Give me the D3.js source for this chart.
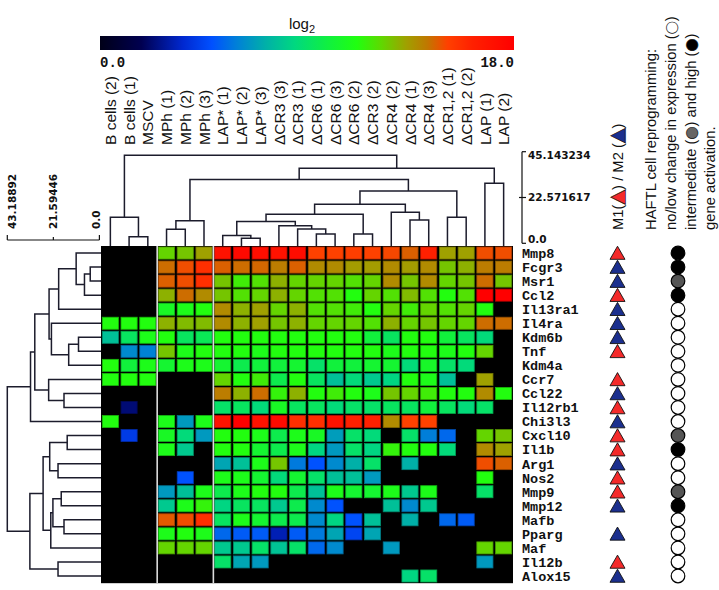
<!DOCTYPE html>
<html><head><meta charset="utf-8">
<script src="https://cdn.jsdelivr.net/npm/d3@7"></script>
<style>body{margin:0;background:#fff}svg{display:block}</style>
</head><body><svg id="c" width="719" height="590"></svg>
<script>
const colLabels = ["B cells (2)","B cells (1)","MSCV","MPh (1)","MPh (2)","MPh (3)","LAP* (1)","LAP* (2)","LAP* (3)","ΔCR3 (3)","ΔCR3 (1)","ΔCR6 (1)","ΔCR6 (3)","ΔCR6 (2)","ΔCR3 (2)","ΔCR4 (2)","ΔCR4 (1)","ΔCR4 (3)","ΔCR1,2 (1)","ΔCR1,2 (2)","LAP (1)","LAP (2)"];
const rowLabels = ["Mmp8","Fcgr3","Msr1","Ccl2","Il13ra1","Il4ra","Kdm6b","Tnf","Kdm4a","Ccr7","Ccl22","Il12rb1","Chi3l3","Cxcl10","Il1b","Arg1","Nos2","Mmp9","Mmp12","Mafb","Pparg","Maf","Il12b","Alox15"];
const _ = null;
const exprValues = [
 [_,_,_,12.3,12.6,13.3,17.0,17.5,17.2,17.0,17.3,15.1,15.1,15.2,15.1,15.0,14.6,16.2,13.3,13.3,14.9,14.9],
 [_,_,_,14.4,14.9,15.7,14.6,14.4,14.5,14.1,14.6,13.8,13.8,13.4,13.4,13.8,13.4,13.8,12.6,13.0,14.1,14.1],
 [_,_,_,14.6,14.9,15.7,12.6,11.7,12.0,13.0,12.3,12.3,12.3,12.0,12.3,13.8,12.6,13.8,12.3,12.6,14.4,12.6],
 [_,_,_,13.0,14.4,13.8,12.6,12.0,12.3,13.0,12.3,12.0,12.0,11.2,12.3,12.0,12.8,12.0,11.2,12.0,18.0,18.0],
 [_,_,_,10.6,10.9,11.2,13.8,13.0,13.3,12.3,13.0,12.0,12.0,11.7,11.2,12.3,11.7,12.3,12.0,12.3,11.2,_],
 [11.2,11.2,11.2,13.0,12.8,12.8,13.8,13.0,13.3,12.6,13.0,12.3,12.3,12.3,12.0,13.0,12.3,12.6,12.3,12.3,14.4,14.4],
 [7.7,9.2,10.9,11.2,9.2,9.4,11.2,11.2,11.2,11.2,11.2,11.2,11.2,11.2,10.0,9.2,11.2,11.2,10.0,9.2,8.6,_],
 [_,6.2,6.0,12.6,10.9,11.2,11.2,11.2,10.9,11.2,11.2,11.2,11.2,11.2,11.2,10.9,11.2,11.2,10.9,11.2,12.3,_],
 [11.2,10.0,10.9,10.3,10.9,10.9,10.3,9.6,10.0,10.0,10.3,9.0,10.0,10.0,10.3,10.3,8.6,10.5,9.0,8.6,_,_],
 [11.2,11.2,11.2,_,_,_,12.3,11.2,11.7,9.6,11.2,9.2,7.7,8.6,8.0,8.4,11.2,10.9,7.7,_,13.3,_],
 [_,_,_,_,_,_,14.1,13.0,14.4,11.5,13.0,11.2,11.7,11.2,10.9,12.6,12.3,11.7,11.2,11.2,13.8,11.2],
 [_,2.3,_,_,_,_,9.0,9.2,8.6,10.6,9.2,9.2,8.6,9.0,9.0,9.2,9.2,10.0,9.2,8.6,9.0,_],
 [11.2,_,_,10.9,6.6,10.9,17.0,18.0,17.0,17.4,15.7,15.7,17.0,16.2,16.2,13.8,15.1,15.1,_,_,_,_],
 [_,4.2,_,10.6,8.6,6.6,11.2,11.2,10.9,9.6,10.9,10.6,6.7,9.0,8.6,_,9.0,5.9,5.4,_,12.3,12.6],
 [_,_,_,10.9,8.0,_,11.2,11.2,10.3,9.6,10.9,8.4,6.6,9.0,8.4,11.5,11.2,11.2,8.6,_,13.8,13.3],
 [_,_,_,_,_,_,6.9,7.7,10.9,12.6,5.8,4.9,6.2,7.2,9.0,_,7.2,_,_,_,14.9,14.6],
 [_,_,_,_,4.9,_,10.9,10.9,10.3,8.6,10.3,9.0,7.7,7.7,6.6,_,_,_,_,_,11.2,_],
 [_,_,_,6.6,7.7,10.9,9.6,10.9,11.2,11.2,9.6,7.7,10.9,10.3,10.3,10.9,8.0,10.9,_,_,9.0,_],
 [_,_,_,8.0,10.9,11.5,8.4,9.2,9.2,8.0,9.6,6.2,4.9,_,_,7.7,6.2,8.0,_,_,_,_],
 [_,_,_,14.7,14.9,15.7,9.2,10.9,10.3,9.6,9.6,6.2,8.4,4.9,7.7,_,7.2,_,5.4,5.1,_,_],
 [_,_,_,10.9,11.2,10.9,5.4,5.1,5.1,3.2,5.1,5.8,6.9,4.5,6.9,_,_,_,_,_,_,_],
 [_,_,_,12.3,12.3,12.3,8.0,8.0,9.0,7.8,9.0,5.4,6.2,_,_,6.6,_,_,_,_,12.3,12.3],
 [_,_,_,_,_,_,9.0,6.9,6.6,_,_,_,_,_,_,_,_,_,_,_,6.6,_],
 [_,_,_,_,_,_,_,_,_,_,_,_,_,_,_,_,8.4,9.0,_,_,_,_]
];
const polarization = ["M1","M2","M2","M1","M2","M2","M2","M1","","M1","M2","M1","M2","M1","M1","M2","M1","M1","M2","","M2","","M1","M2"];
const reprogramming = ["high","high","mid","high","low","low","low","low","low","low","low","low","low","mid","high","low","low","mid","high","low","low","low","low","low"];
// linkage: [childA, childB, height]; indices >= n refer to earlier merges
const colLinkage = [[1,2,3.25],[0,22,12.8],[3,4,6.9],[5,24,11.1],[7,8,2.5],[6,26,3.9],[11,12,4.6],[10,28,7.0],[9,29,8.7],[27,30,10.8],[13,14,4.6],[31,32,14.3],[16,17,11.5],[15,34,15.3],[33,35,19.2],[18,19,12.8],[36,37,25.8],[25,38,31.5],[20,21,29.6],[39,40,37.0],[23,41,43.4]];
const rowLinkage = [[1,2,4.3],[24,3,7.0],[0,25,10.9],[26,4,19.1],[6,7,9.8],[28,8,14.4],[5,29,22.5],[27,30,23.6],[10,11,16.6],[9,32,23.8],[31,33,30.3],[34,12,32.3],[13,14,15.1],[15,16,19.4],[36,37,23.3],[17,18,17.9],[19,20,16.6],[39,40,21.8],[41,21,22.8],[38,42,26.4],[22,23,19.4],[43,44,32.6],[35,45,43.18892]];
const colDendroTicks = [0, 22.571617, 45.143234];
const rowDendroTicks = [0, 21.59446, 43.18892];
const colorbarTicks = [0, 18];
const colorStops = [0,1.8,3.6,4.86,5.94,7.2,8.46,9.9,11.16,12.24,13.32,14.22,15.12,16.2,18];
const colorHex = ["#000018","#000050","#0028d0","#0050ff","#0080d8","#00b0a8","#00d880","#10f040","#20ff10","#60d800","#a0a000","#c07800","#ff4000","#ff2000","#ff0000"];

const svg = d3.select("#c");
const nC = colLabels.length, nR = rowLabels.length;
const hx0 = 101, hx1 = 513, hy0 = 246, hy1 = 583;
const x = d3.scaleBand().domain(d3.range(nC)).range([hx0, hx1]);
const y = d3.scaleBand().domain(d3.range(nR)).range([hy0, hy1]);
const color = d3.scaleLinear().domain(colorStops).range(colorHex).interpolate(d3.interpolateRgb).clamp(true);
const lineCol = "#1c1c2c";

// colour bar
const defs = svg.append("defs");
const grad = defs.append("linearGradient").attr("id","cb");
colorStops.forEach((v,i)=>grad.append("stop").attr("offset", v/18).attr("stop-color", colorHex[i]));
const cbx = d3.scaleLinear().domain([0,18]).range([100,514]);
svg.append("rect").attr("x",cbx(0)).attr("y",36).attr("width",cbx(18)-cbx(0)).attr("height",14).attr("fill","url(#cb)");
const lg = svg.append("text").attr("x",302).attr("y",29).attr("text-anchor","middle")
  .style("font-family","'Liberation Sans',Arial,sans-serif").style("font-size","15px").attr("fill","#111");
lg.append("tspan").text("log");
lg.append("tspan").attr("dy",4).style("font-size","11px").text("2");
colorbarTicks.forEach((t,i)=>{
  svg.append("text").attr("x",cbx(t)).attr("y",67).attr("text-anchor", i===0?"start":"end")
    .style("font-family","'Liberation Mono',monospace").style("font-weight","bold").style("font-size","14px")
    .attr("fill","#111").text(d3.format(".1f")(t));
});

// heatmap
svg.append("rect").attr("x",hx0).attr("y",hy0).attr("width",hx1-hx0).attr("height",hy1-hy0).attr("fill","#000");
const cells = [];
exprValues.forEach((row,r)=>row.forEach((v,c)=>{ if(v!==null) cells.push({r,c,v}); }));
svg.append("g").selectAll("rect").data(cells).join("rect")
  .attr("x",d=>x(d.c)+1.3).attr("y",d=>y(d.r)+1.0)
  .attr("width",x.bandwidth()-2.6).attr("height",y.bandwidth()-2.0)
  .attr("fill",d=>color(d.v))
  .attr("stroke",d=>d3.color(color(d.v)).darker(0.9)).attr("stroke-width",0.8);
[3,6].forEach(c=>svg.append("line").attr("x1",x(c)).attr("x2",x(c)).attr("y1",hy0).attr("y2",hy1)
  .attr("stroke","#dcdcdc").attr("stroke-width",1.6));
svg.append("line").attr("x1",hx0).attr("x2",hx1).attr("y1",hy1+0.5).attr("y2",hy1+0.5).attr("stroke","#cfcfcf").attr("stroke-width",1.2);

// column labels
svg.append("g").selectAll("text").data(colLabels).join("text")
  .attr("transform",(d,i)=>`translate(${x(i)+x.bandwidth()/2},145) rotate(-90)`)
  .attr("dy","0.36em")
  .style("font-family","'Liberation Sans',Arial,sans-serif").style("font-size","15.5px").attr("fill","#111")
  .text(d=>d);

// dendrograms
function dendroPaths(linkage, n, leafPos, leafEdge, hScale, orient){
  const pos = leafPos.slice(), ht = [];
  const out = [];
  linkage.forEach(([a,b,h],i)=>{
    const k = n+i; pos[k] = (pos[a]+pos[b])/2; ht[k] = h;
    const ea = a<n ? leafEdge : hScale(ht[a]);
    const eb = b<n ? leafEdge : hScale(ht[b]);
    const m = hScale(h);
    out.push(orient==="top"
      ? `M${pos[a]},${ea}V${m}H${pos[b]}V${eb}`
      : `M${ea},${pos[a]}H${m}V${pos[b]}H${eb}`);
  });
  return out;
}
const colH = d3.scaleLinear().domain([0,45.143234]).range([243.3,151.7]);
const rowH = d3.scaleLinear().domain([0,43.18892]).range([99.4,7.3]);
const colLeaf = d3.range(nC).map(i=>x(i)+x.bandwidth()/2);
const rowLeaf = d3.range(nR).map(i=>y(i)+y.bandwidth()/2);
svg.append("g").selectAll("path").data(dendroPaths(colLinkage,nC,colLeaf,hy0,colH,"top")).join("path")
  .attr("d",d=>d).attr("fill","none").attr("stroke",lineCol).attr("stroke-width",1.5);
svg.append("g").selectAll("path").data(dendroPaths(rowLinkage,nR,rowLeaf,hx0,rowH,"left")).join("path")
  .attr("d",d=>d).attr("fill","none").attr("stroke",lineCol).attr("stroke-width",1.5);

// dendrogram scale axes
const axFont = sel=>sel.style("font-family","'DejaVu Sans',Verdana,sans-serif").style("font-weight","bold").style("font-size","10.5px").attr("fill","#111");
const ax1 = svg.append("g");
ax1.append("line").attr("x1",522).attr("x2",522).attr("y1",colH(45.143234)).attr("y2",colH(0)).attr("stroke","#111").attr("stroke-width",1.2);
colDendroTicks.forEach((t,i)=>{
  ax1.append("line").attr("x1",i===1?519:522).attr("x2",526).attr("y1",colH(t)).attr("y2",colH(t)).attr("stroke","#111").attr("stroke-width",1.2);
  ax1.append("text").attr("x",528).attr("y",colH(t)+[-4,0,4][i]).attr("dy","0.36em").call(axFont)
    .text(t===0?"0.0":String(t));
});
const ax2 = svg.append("g");
ax2.append("line").attr("x1",rowH(43.18892)).attr("x2",rowH(0)).attr("y1",240).attr("y2",240).attr("stroke","#111").attr("stroke-width",1.2);
rowDendroTicks.forEach((t,i)=>{
  ax2.append("line").attr("x1",rowH(t)).attr("x2",rowH(t)).attr("y1",240).attr("y2",i===1?237:235).attr("stroke","#111").attr("stroke-width",1.2);
  ax2.append("text").attr("transform",`translate(${rowH(t)+[-3,0,5][i]},229) rotate(-90)`).attr("dy","0.36em").call(axFont)
    .text(t===0?"0.0":String(t));
});

// row labels
svg.append("g").selectAll("text").data(rowLabels).join("text")
  .attr("x",522).attr("y",(d,i)=>y(i)+y.bandwidth()/2).attr("dy","0.36em")
  .style("font-family","'Liberation Mono',monospace").style("font-weight","bold").style("font-size","13.5px").attr("fill","#111")
  .text(d=>d);

// M1/M2 triangles
const triFill = {M1:"#f42a2a", M2:"#1b2f8e"};
svg.append("g").selectAll("path").data(polarization.map((p,i)=>({p,i})).filter(d=>d.p)).join("path")
  .attr("d",d=>{const cx=617.5, cy=y(d.i)+y.bandwidth()/2; return `M${cx-7.5},${cy+6.3}L${cx+7.5},${cy+6.3}L${cx},${cy-6.8}Z`;})
  .attr("fill",d=>triFill[d.p]).attr("stroke","#111").attr("stroke-width",0.9);

// reprogramming circles
const circFill = {low:"#fff", mid:"#555", high:"#000"};
svg.append("g").selectAll("circle").data(reprogramming).join("circle")
  .attr("cx",678).attr("cy",(d,i)=>y(i)+y.bandwidth()/2).attr("r",6.8)
  .attr("fill",d=>circFill[d]).attr("stroke","#000").attr("stroke-width",1.2);

// right rotated legends
const sans = sel=>sel.style("font-family","'Liberation Sans',Arial,sans-serif").style("font-size","14.8px").attr("fill","#111");
function rtext(cx, parts){
  const t = svg.append("text").attr("transform",`translate(${cx},230) rotate(-90)`).attr("dy","0.33em").call(sans);
  parts.forEach(p=>{
    const s = t.append("tspan").text(p.t);
    if(p.fill){ s.attr("fill",p.fill).attr("stroke","#111").attr("stroke-width",0.7)
      .style("font-family","'DejaVu Sans',sans-serif").style("font-size",(p.size||19)+"px"); }
  });
}
rtext(618,[{t:"M1("},{t:"▲",fill:triFill.M1},{t:") / M2 ("},{t:"▲",fill:triFill.M2},{t:")"}]);
rtext(651,[{t:"HAFTL cell reprogramming:"}]);
rtext(671,[{t:"no/low change in expression ("},{t:"●",fill:"#fff",size:15},{t:")"}]);
rtext(691,[{t:"intermediate ("},{t:"●",fill:"#666",size:15},{t:") and high ("},{t:"●",fill:"#000",size:15},{t:")"}]);
rtext(710,[{t:"gene activation."}]);
</script></body></html>
